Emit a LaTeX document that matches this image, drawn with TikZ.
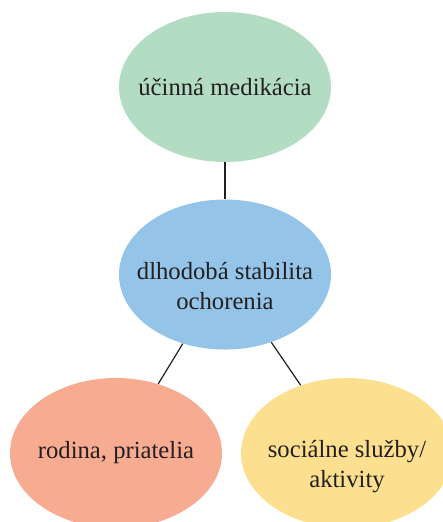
\documentclass[tikz,border=0pt]{standalone}
\usepackage{fontspec}
\setmainfont{Liberation Serif}
\usepackage{xcolor}
\usetikzlibrary{positioning, shapes.geometric}

\definecolor{medgreen}{HTML}{B3DDC2}
\definecolor{stabblue}{HTML}{94C4E8}
\definecolor{famsalmon}{HTML}{F7AC91}
\definecolor{socyellow}{HTML}{FCDF8F}
\definecolor{linkgray}{HTML}{231F20}
\newcommand\droptext[1]{\rule{0pt}{#1}}

\begin{document}
\begin{tikzpicture}[x=0.75pt, y=-0.75pt, node distance=27.75pt,
      bubble/.style = {ellipse, minimum width=159pt, minimum height=112.5pt,
                       inner xsep=-15pt, inner ysep=0pt, align=center, text=linkgray,
                       font=\fontsize{18.5}{22.5}\selectfont},
      link/.style = {draw=linkgray, line width=0.9pt} ]
   \useasboundingbox (0,0) rectangle (443,522);

   \node (med)  [bubble, fill=medgreen] at (225,87) {účinná medikácia};
   \node (stab) [bubble, fill=stabblue, below=of med]
        {\droptext{30pt}dlhodobá stabilita\\ochorenia};
   \node (fam)  [bubble, fill=famsalmon] at (116,453) {rodina, priatelia};
   \node (soc)  [bubble, fill=socyellow] at (347,453)
        {\droptext{33pt}sociálne služby/\\aktivity};

   % connectors, centre to centre
   \draw[link] (med) -- (stab);
   \draw[link] (stab) -- (fam);
   \draw[link] (stab) -- (soc);
\end{tikzpicture}
\end{document}
